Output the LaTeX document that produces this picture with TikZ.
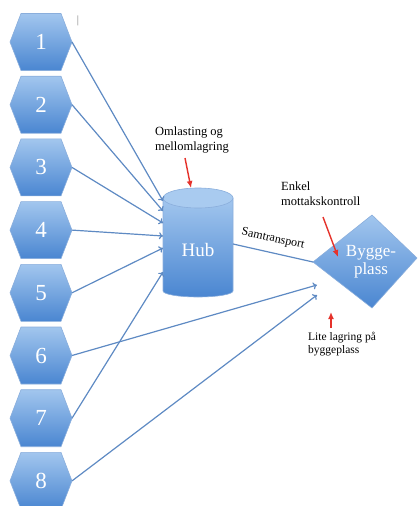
\documentclass[tikz,border=0pt]{standalone}
\usepackage{fontspec}
\setmainfont{Liberation Serif}
\usetikzlibrary{calc,arrows.meta}
\definecolor{boxtop}{HTML}{A2C6EE}
\definecolor{boxbot}{HTML}{4A86D1}
\definecolor{boxedge}{HTML}{8AAEDC}
\definecolor{hubtop}{HTML}{A9CBF0}
\definecolor{flowblue}{HTML}{5E8AC3}
\definecolor{notered}{HTML}{E5322B}
\tikzset{
  hexa/.style={top color=boxtop, bottom color=boxbot, draw=boxedge, line width=.6pt},
  num/.style={text=white, font=\fontsize{23}{23}\selectfont},
  flow/.style={draw=flowblue, line width=1.2pt, -{To[length=4pt,width=7pt]}},
  note/.style={draw=notered, line width=1.4pt, -{Latex[length=7pt,width=6pt]}},
  label/.style={font=\fontsize{12.5}{14.5}\selectfont, align=left, inner sep=0pt},
}
\begin{document}
\begin{tikzpicture}[x=1pt, y=-1pt]
  \useasboundingbox (0,0) rectangle (418,506);
  % sources
  \foreach \i in {1,...,8}{
    \coordinate (c\i) at (41,{42+62.7*(\i-1)});
    \shadedraw[hexa] ($(c\i)+(-31,0)$) -- ++(11,-28.5) -- ++(40,0) -- ++(11,28.5)
      -- ++(-11,28.5) -- ++(-40,0) -- cycle;
    \node[num] (h\i) at (c\i) {\i};
    \coordinate (r\i) at ($(c\i)+(31,0)$);
  }
  \node[text=gray, font=\fontsize{11}{11}\selectfont] (mark) at (78,21) {|};
  % hub
  \shadedraw[hexa] (163,198) -- (163,291) arc[start angle=180, end angle=0, x radius=35, y radius=6]
    -- (233,198) -- cycle;
  \filldraw[fill=hubtop, draw=boxedge, line width=.6pt] (198,198) ellipse[x radius=35, y radius=10];
  \node[num, font=\fontsize{19}{19}\selectfont] (hub) at (198,250) {Hub};
  \foreach \y [count=\i] in {201,211,223,236,248}
    \coordinate (in\i) at (163,\y);
  \coordinate (in7) at (163,272);
  \coordinate (out) at (233,244);
  % byggeplass
  \shadedraw[hexa] (313,262) -- (372,215) -- (417,258) -- (372,308) -- cycle;
  \node[num, font=\fontsize{17}{18}\selectfont, align=center] (site) at (371,262) {Bygge-\\plass};
  \coordinate (tip) at (313,262);
  \coordinate (end6) at (317,285);
  \coordinate (end8) at (317,295);
  % flows
  \foreach \i in {1,...,5}
    \draw[flow] (r\i) -- (in\i);
  \draw[flow] (r7) -- (in7);
  \draw[flow] (r6) -- (end6);
  \draw[flow] (r8) -- (end8);
  \draw[draw=flowblue, line width=1.2pt] (out) -- (tip);
  \node[font=\fontsize{12}{12}\selectfont, rotate=-12.5] (sam) at (273,239) {Samtransport};
  % notes
  \node[label, anchor=north west] (oml) at (155,127) {Omlasting og\\mellomlagring};
  \node[label, anchor=north west] (enk) at (281,182) {Enkel\\mottakskontroll};
  \node[label, font=\fontsize{11.5}{13}\selectfont, anchor=north west] (lite) at (308,332) {Lite lagring på\\byggeplass};
  \coordinate (hubtop) at (191,188);
  \coordinate (sitein) at (338,257);
  \coordinate (sitebot) at (331,312);
  \draw[note] (185,158) -- (hubtop);
  \draw[note] (323,217) -- (sitein);
  \draw[note] (331,328) -- (sitebot);
\end{tikzpicture}
\end{document}
